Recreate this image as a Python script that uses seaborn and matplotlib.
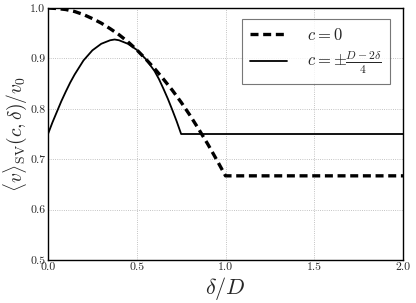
import numpy as np
import pandas as pd
import seaborn as sns
import matplotlib
matplotlib.use("Agg")
import matplotlib.pyplot as plt

# values
delta_c0 = [0.0, 0.05, 0.1, 0.15, 0.2, 0.25, 0.3, 0.35, 0.4, 0.45, 0.5,
            0.55, 0.6, 0.65, 0.7, 0.75, 0.8, 0.85, 0.9, 0.95, 1.0, 2.0]
v_c0 = [1.000, 0.999, 0.997, 0.993, 0.987, 0.979, 0.970, 0.959, 0.947, 0.933, 0.917,
        0.899, 0.880, 0.859, 0.837, 0.813, 0.787, 0.759, 0.730, 0.699, 0.667, 0.667]

delta_cpm = [0.0, 0.025, 0.05, 0.075, 0.1, 0.125, 0.15, 0.2, 0.25, 0.3, 0.35, 0.375, 0.4,
             0.45, 0.5, 0.55, 0.6, 0.625, 0.65, 0.675, 0.7, 0.725, 0.75, 2.0]
v_cpm = [0.750, 0.773, 0.794, 0.815, 0.834, 0.852, 0.868, 0.896, 0.916, 0.929, 0.936, 0.9375,
         0.936, 0.929, 0.917, 0.899, 0.875, 0.859, 0.840, 0.820, 0.798, 0.775, 0.750, 0.750]

labels = [r"$c=0$", r"$c=\pm\frac{D-2\delta}{4}$"]

sns.set_style("white")
plt.rcParams["font.family"] = "cmr10"
plt.rcParams["mathtext.fontset"] = "cm"
plt.rcParams["axes.formatter.use_mathtext"] = True

df0 = pd.DataFrame({"delta": delta_c0, "v": v_c0})
df1 = pd.DataFrame({"delta": delta_cpm, "v": v_cpm})

fig = plt.figure(figsize=(4.16, 3.03), dpi=100)
ax = fig.add_axes([0.1154, 0.1419, 0.8534, 0.8317])

sns.lineplot(data=df0, x="delta", y="v", ax=ax, color="black", lw=2.4,
             linestyle=(0, (2.4, 1.4)), label=labels[0])
sns.lineplot(data=df1, x="delta", y="v", ax=ax, color="black", lw=1.3,
             label=labels[1])

ax.set_xlim(0, 2)
ax.set_ylim(0.5, 1.0)
ax.set_xticks([0.0, 0.5, 1.0, 1.5, 2.0])
ax.set_yticks([0.5, 0.6, 0.7, 0.8, 0.9, 1.0])
ax.set_xticklabels(["0.0", "0.5", "1.0", "1.5", "2.0"])
ax.set_yticklabels(["0.5", "0.6", "0.7", "0.8", "0.9", "1.0"])
ax.tick_params(labelsize=8.5, length=0, pad=2)
ax.grid(True, color="#b0b0b0", linestyle=":", lw=0.6)

for s in ax.spines.values():
    s.set_color("black")
    s.set_linewidth(1.0)

ax.set_xlabel(r"$\delta/D$", fontsize=16, labelpad=2)
ax.set_ylabel(r"$\langle v\rangle_{\mathrm{SV}}(c,\delta)/v_0$", fontsize=14, labelpad=1)

leg = ax.legend(loc="upper right", fontsize=12, frameon=True, fancybox=False,
                borderpad=0.5, handlelength=2.2, handletextpad=1.2, labelspacing=0.4,
                bbox_to_anchor=(0.987, 0.99))
leg.get_frame().set_edgecolor("#555555")
leg.get_frame().set_linewidth(0.8)

fig.savefig("out.png", dpi=100)
